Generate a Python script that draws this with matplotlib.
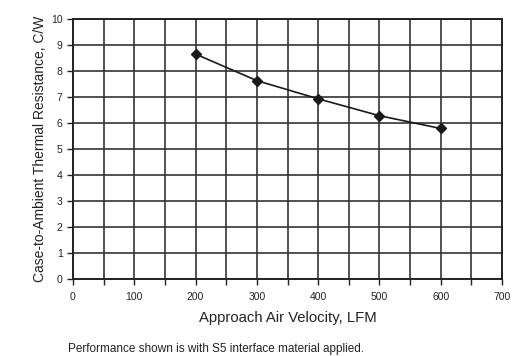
import matplotlib
matplotlib.use("Agg")
import matplotlib.pyplot as plt
from matplotlib.ticker import MultipleLocator

velocity = [200, 300, 400, 500, 600]
resistance = [8.65, 7.63, 6.93, 6.28, 5.79]
xticks = [0, 100, 200, 300, 400, 500, 600, 700]
yticks = list(range(0, 11))

plt.rcParams['font.family'] = ['Liberation Sans', 'DejaVu Sans']

fig = plt.figure(figsize=(5.27, 3.56), dpi=100)
ax = fig.add_axes([73/527, 1-279/356, (502-73)/527, (279-19)/356])

ax.plot(velocity, resistance, color='#1a1a1a', lw=1.2, marker='D', ms=5.5,
        mfc='#1a1a1a', mec='#1a1a1a', zorder=3)

ax.set_xlim(0, 700)
ax.set_ylim(0, 10)
ax.set_xticks(xticks)
ax.set_yticks(yticks)
ax.xaxis.set_minor_locator(MultipleLocator(50))
ax.grid(True, which='both', color='#333333', lw=1.2)
ax.set_axisbelow(True)
for s in ax.spines.values():
    s.set_color('#222222')
    s.set_linewidth(1.4)
ax.tick_params(axis='both', which='both', direction='out', length=4, width=1,
               color='#222222', labelsize=7.5, labelcolor='#222222')
ax.tick_params(axis='x', pad=5)

ax.set_xlabel('Approach Air Velocity, LFM', fontsize=10.7, color='#222222', labelpad=7)
ax.set_ylabel('Case-to-Ambient Thermal Resistance, C/W', fontsize=10, color='#222222', labelpad=3)

fig.text(68/527, 1-349/356, 'Performance shown is with S5 interface material applied.',
         fontsize=8.5, color='#222222', va='center', ha='left')

fig.savefig('out.png', dpi=100, facecolor='white')
